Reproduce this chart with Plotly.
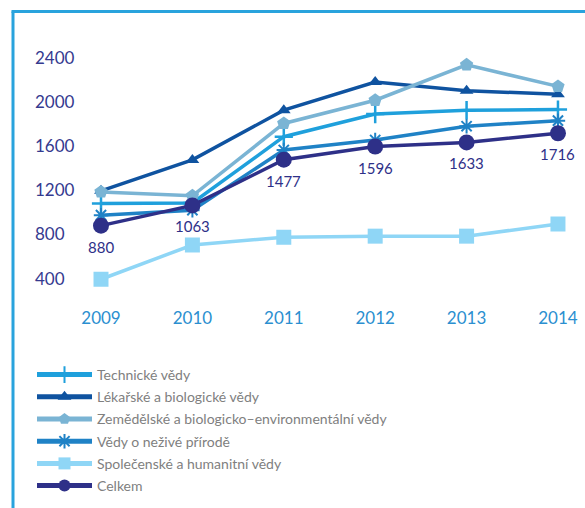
import plotly.graph_objects as go

# data
years = [2009, 2010, 2011, 2012, 2013, 2014]
technicke = [1080, 1085, 1685, 1890, 1925, 1930]
lekarske = [1195, 1475, 1925, 2180, 2100, 2070]
zemedelske = [1185, 1150, 1805, 2015, 2335, 2140]
nezive = [975, 1020, 1565, 1655, 1780, 1830]
spolecenske = [395, 705, 775, 785, 785, 895]
celkem = [880, 1063, 1477, 1596, 1633, 1716]
y_ticks = [400, 800, 1200, 1600, 2000, 2400]

names = [
    "Technické vědy",
    "Lékařské a biologické vědy",
    "Zemědělské a biologicko–environmentální vědy",
    "Vědy o neživé přírodě",
    "Společenské a humanitní vědy",
    "Celkem",
]

W, H = 585, 508
L, R, T, B = 32, 5, 40, 203
pw, ph = W - L - R, H - T - B

navy = "#2e3088"
frame = "#29a3dd"

series = [
    (technicke, "#1fa0dc", dict(symbol="cross-thin", size=13, line=dict(width=2.5, color="#1fa0dc"))),
    (lekarske, "#0f53a0", dict(symbol="triangle-up", size=12)),
    (zemedelske, "#7ab4d4", dict(symbol="pentagon", size=14)),
    (nezive, "#1f82c6", dict(symbol="asterisk", size=12, line=dict(width=2, color="#1f82c6"))),
    (spolecenske, "#8fd6f6", dict(symbol="square", size=15)),
]

fig = go.Figure()
for i, (vals, col, mk) in enumerate(series):
    mk.setdefault("color", col)
    fig.add_trace(go.Scatter(
        x=years, y=vals, name=names[i], mode="lines+markers",
        line=dict(color=col, width=3.5), marker=mk,
        legendgroup=str(i),
    ))

fig.add_trace(go.Scatter(
    x=years, y=celkem, name=names[5], mode="lines+markers",
    line=dict(color=navy, width=3.5), marker=dict(symbol="circle", size=16, color=navy),
    legendgroup="5",
))

# value labels under the "Celkem" points
for yr, v in zip(years, celkem):
    fig.add_annotation(x=yr, y=v, text=str(v), showarrow=False, yshift=-21,
                       font=dict(size=15, color=navy))

# light blue frame (left + top)
def px_x(p):
    return (p - L) / pw

def px_y(p):
    return (H - B - p) / ph

fig.add_shape(type="line", xref="paper", yref="paper",
              x0=px_x(13), x1=px_x(13), y0=px_y(11.5), y1=px_y(510),
              line=dict(color=frame, width=3))
fig.add_shape(type="line", xref="paper", yref="paper",
              x0=px_x(11.5), x1=px_x(590), y0=px_y(11.5), y1=px_y(11.5),
              line=dict(color=frame, width=3))

fig.update_layout(
    width=W, height=H,
    margin=dict(l=L, r=R, t=T, b=B),
    paper_bgcolor="white", plot_bgcolor="white",
    font=dict(family="Lato, sans-serif"),
    showlegend=True,
    legend=dict(
        x=0, y=px_y(359), xanchor="left", yanchor="top",
        font=dict(size=14, color="#808080"),
        traceorder="grouped", tracegroupgap=1,
        itemwidth=55, itemsizing="constant",
    ),
)
fig.update_xaxes(
    range=[2008.245, 2014.241], tickvals=years, showgrid=False, zeroline=False,
    showline=False, tickfont=dict(size=17, color="#2b8fd0"), ticklabelstandoff=1,
)
fig.update_yaxes(
    range=[162, 2560], tickvals=y_ticks, showgrid=False, zeroline=False,
    showline=False, ticklabelposition="inside",
    tickfont=dict(size=17, color="#353a8f"),
)

fig.write_html("out.html", config={"displayModeBar": False},
               post_script="document.body.style.margin='0';")
